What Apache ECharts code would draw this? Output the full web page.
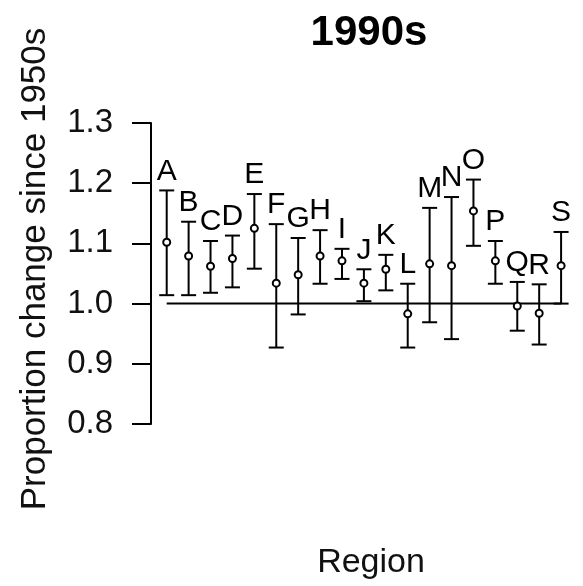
<!DOCTYPE html>
<html>
<head>
<meta charset="utf-8">
<script src="https://cdn.jsdelivr.net/npm/echarts@6/dist/echarts.min.js"></script>
<style>
  html, body { margin: 0; padding: 0; background: #fff; }
  #main { width: 583px; height: 586px; }
</style>
</head>
<body>
<div id="main"></div>
<script>
// regions and their proportion change (1990s vs 1950s), with interval ends
const regions = ['A', 'B', 'C', 'D', 'E', 'F', 'G', 'H', 'I', 'J', 'K', 'L', 'M', 'N', 'O', 'P', 'Q', 'R', 'S'];
const means = [1.102, 1.079, 1.062, 1.075, 1.125, 1.034, 1.048, 1.079, 1.071, 1.034, 1.057, 0.983, 1.066, 1.063, 1.154, 1.071, 0.996, 0.984, 1.063];
const upper = [1.188, 1.136, 1.104, 1.113, 1.182, 1.132, 1.109, 1.122, 1.091, 1.057, 1.081, 1.033, 1.159, 1.177, 1.206, 1.104, 1.036, 1.032, 1.119];
const lower = [1.014, 1.014, 1.018, 1.027, 1.058, 0.927, 0.982, 1.033, 1.041, 1.004, 1.022, 0.927, 0.969, 0.941, 1.096, 1.033, 0.955, 0.932, 1.000];
const yTicks = [0.8, 0.9, 1.0, 1.1, 1.2, 1.3];
const baseline = 1.0;

const font = '"Liberation Sans", Arial, sans-serif';
const chart = echarts.init(document.getElementById('main'));

// one row per region: x position, mean, lower, upper, name
let rows = [];
regions.forEach((name, i) => {
  rows.push([i + 1, means[i], lower[i], upper[i], name]);
});

function renderBar(params, api) {
  const x = api.value(0);
  const pm = api.coord([x, api.value(1)]);
  const plo = api.coord([x, api.value(2)]);
  const phi = api.coord([x, api.value(3)]);
  const cap = 7.5;
  const stroke = { stroke: '#000', lineWidth: 2 };
  return {
    type: 'group',
    children: [
      { type: 'line', shape: { x1: pm[0], y1: phi[1], x2: pm[0], y2: plo[1] }, style: stroke },
      { type: 'line', shape: { x1: pm[0] - cap, y1: phi[1], x2: pm[0] + cap, y2: phi[1] }, style: stroke },
      { type: 'line', shape: { x1: pm[0] - cap, y1: plo[1], x2: pm[0] + cap, y2: plo[1] }, style: stroke },
      { type: 'circle', shape: { cx: pm[0], cy: pm[1], r: 3.5 }, style: { fill: '#fff', stroke: '#000', lineWidth: 2 } },
      {
        type: 'text',
        style: {
          x: pm[0], y: phi[1] - 4,
          text: api.value(4),
          font: '30px ' + font,
          fill: '#000',
          align: 'center',
          verticalAlign: 'bottom'
        }
      }
    ]
  };
}

let option = {
  animation: false,
  backgroundColor: '#fff',
  grid: { left: 151, top: 123, width: 448, height: 301 },
  xAxis: {
    type: 'value',
    min: 0.283,
    max: 20,
    show: false
  },
  yAxis: {
    type: 'value',
    min: yTicks[0],
    max: yTicks[yTicks.length - 1],
    interval: 0.1,
    splitLine: { show: false },
    axisLine: { show: true, lineStyle: { color: '#000', width: 2 } },
    axisTick: { show: true, length: 19, lineStyle: { color: '#000', width: 2 } },
    axisLabel: {
      margin: 38,
      fontSize: 33,
      fontFamily: font,
      color: '#111',
      formatter: v => v.toFixed(1)
    }
  },
  series: [
    {
      type: 'line',
      data: [[1, baseline], [regions.length, baseline]],
      symbol: 'none',
      lineStyle: { color: '#000', width: 2 },
      z: 1
    },
    {
      type: 'custom',
      renderItem: renderBar,
      data: rows,
      encode: { x: 0, y: [1, 2, 3] },
      z: 2
    }
  ],
  graphic: [
    {
      type: 'text', x: 369, y: 33,
      style: { text: '1990s', font: 'bold 42px ' + font, fill: '#000', align: 'center', verticalAlign: 'middle' }
    },
    {
      type: 'text', x: 35, y: 269, rotation: Math.PI / 2,
      style: { text: 'Proportion change since 1950s', font: '35px ' + font, fill: '#111', align: 'center', verticalAlign: 'middle' }
    },
    {
      type: 'text', x: 371, y: 563,
      style: { text: 'Region', font: '34px ' + font, fill: '#111', align: 'center', verticalAlign: 'middle' }
    }
  ]
};

chart.setOption(option);
</script>
</body>
</html>
